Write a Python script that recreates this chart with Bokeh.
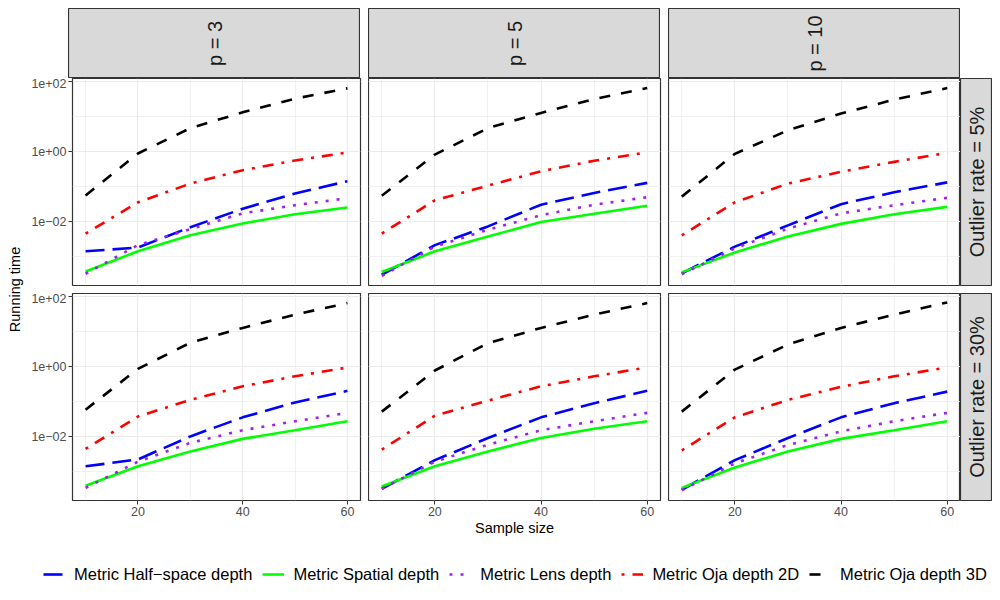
import math
from bokeh.plotting import figure
from bokeh.models import (ColumnDataSource, FixedTicker, Range1d, CustomJSTickFormatter,
                          Legend, LegendItem, Spacer)
from bokeh.layouts import row, column
from bokeh.embed import file_html
from bokeh.resources import INLINE
from bokeh.core.properties import value

# ---------------- data ----------------
sample_sizes = [10, 20, 30, 40, 50, 60]
dim_labels = ["p = 3", "p = 5", "p = 10"]
rate_labels = ["Outlier rate = 5%", "Outlier rate = 30%"]
method_labels = ["Metric Half\u2212space depth", "Metric Spatial depth", "Metric Lens depth",
                 "Metric Oja depth 2D", "Metric Oja depth 3D"]
y_tick_values = [0.01, 1, 100]
y_minor_values = [0.001, 0.1, 10]
x_tick_values = [20, 40, 60]
x_minor_values = [10, 30, 50]

# each list: [p = 3, p = 5, p = 10]; outlier rate 5%
halfspace_5 = [[0.0014, 0.0018, 0.0068, 0.023, 0.063, 0.14],
               [0.0003, 0.0021, 0.0072, 0.030, 0.065, 0.126],
               [0.00033, 0.0019, 0.0077, 0.031, 0.068, 0.13]]
spatial_5 = [[0.00037, 0.0014, 0.0040, 0.0087, 0.016, 0.025],
             [0.00036, 0.0014, 0.0037, 0.0096, 0.0166, 0.028],
             [0.00035, 0.0013, 0.0037, 0.0085, 0.016, 0.026]]
lens_5 = [[0.00032, 0.0021, 0.0060, 0.017, 0.029, 0.046],
          [0.00028, 0.0019, 0.0058, 0.015, 0.030, 0.049],
          [0.00031, 0.0017, 0.0062, 0.017, 0.029, 0.047]]
oja2d_5 = [[0.0045, 0.035, 0.12, 0.29, 0.55, 0.93],
           [0.0045, 0.040, 0.105, 0.27, 0.54, 0.93],
           [0.0040, 0.035, 0.12, 0.26, 0.50, 0.91]]
oja3d_5 = [[0.055, 0.87, 4.6, 13.0, 32.0, 63.0],
           [0.054, 0.81, 4.6, 12.5, 31.0, 64.0],
           [0.051, 0.85, 4.0, 12.0, 30.0, 64.0]]

# outlier rate 30%
halfspace_30 = [[0.0014, 0.0022, 0.010, 0.035, 0.093, 0.20],
                [0.00032, 0.0021, 0.009, 0.035, 0.089, 0.20],
                [0.0003, 0.0021, 0.009, 0.035, 0.089, 0.19]]
spatial_30 = [[0.00039, 0.0014, 0.0037, 0.0085, 0.015, 0.027],
              [0.00037, 0.0014, 0.0037, 0.0090, 0.0166, 0.027],
              [0.00034, 0.0013, 0.0037, 0.0085, 0.015, 0.027]]
lens_30 = [[0.00034, 0.0019, 0.0065, 0.015, 0.027, 0.047],
           [0.00032, 0.0019, 0.0058, 0.015, 0.027, 0.047],
           [0.00029, 0.0017, 0.0057, 0.014, 0.027, 0.047]]
oja2d_30 = [[0.0044, 0.037, 0.11, 0.27, 0.52, 0.93],
            [0.0042, 0.039, 0.105, 0.27, 0.52, 0.93],
            [0.0040, 0.035, 0.11, 0.26, 0.52, 0.93]]
oja3d_30 = [[0.058, 0.85, 4.7, 12.5, 30.0, 64.0],
            [0.051, 0.76, 4.6, 12.5, 30.0, 64.0],
            [0.051, 0.81, 4.2, 12.5, 30.0, 67.0]]

rows_data = [[halfspace_5, spatial_5, lens_5, oja2d_5, oja3d_5],
             [halfspace_30, spatial_30, lens_30, oja2d_30, oja3d_30]]

# ---------------- styles ----------------
FONT = "Liberation Sans"
method_colors = ["#0000FF", "#00FF00", "#A020F0", "#FF0000", "#000000"]
method_dashes = ["19 8", "solid", "3 8", "3 8 11 8", "11 11"]
LW = 2.6
BORDER = "#333333"
GRID = "#EBEBEB"
STRIP_BG = "#D9D9D9"

col_w = [340, 300, 292]
col_ml = [40, 0, 0]
col_mr = [8, 8, 0]
row_h = [215, 247]
row_mb = [8, 40]

fmt = CustomJSTickFormatter(code="""
const e = Math.round(Math.log10(tick));
const a = Math.abs(e);
return "1e" + (e < 0 ? "\u2212" : "+") + (a < 10 ? "0" : "") + a;
""")


def strip_fig(label, w, h, mb=0):
    s = figure(width=w, height=h, x_range=Range1d(0, 1), y_range=Range1d(0, 1),
               min_border_left=0, min_border_right=0, min_border_top=0, min_border_bottom=mb,
               toolbar_location=None, output_backend="svg",
               x_axis_location=None, y_axis_location=None,
               background_fill_color=STRIP_BG, border_fill_color="white",
               outline_line_color=BORDER, outline_line_width=1.2)
    s.grid.visible = False
    src = ColumnDataSource(dict(x=[0.5], y=[0.5], t=[label]))
    s.text(x="x", y="y", text="t", source=src, angle=math.pi / 2,
           text_align="center", text_baseline="middle",
           text_font=value(FONT), text_font_size="20px", text_color="#1A1A1A")
    return s


def panel(ri, ci):
    bottom = ri == 1
    left = ci == 0
    p = figure(width=col_w[ci], height=row_h[ri],
               x_range=Range1d(7.5, 62.5), y_range=Range1d(10 ** -3.83, 10 ** 2.08),
               y_axis_type="log",
               x_axis_location="below" if bottom else None,
               y_axis_location="left" if left else None,
               min_border_left=col_ml[ci], min_border_right=col_mr[ci],
               min_border_top=0, min_border_bottom=row_mb[ri],
               toolbar_location=None, output_backend="svg",
               background_fill_color="white", border_fill_color="white",
               outline_line_color=BORDER, outline_line_width=1.2)
    p.xgrid.ticker = FixedTicker(ticks=x_tick_values, minor_ticks=x_minor_values)
    p.ygrid.ticker = FixedTicker(ticks=y_tick_values, minor_ticks=y_minor_values)
    for g in (p.xgrid, p.ygrid):
        g.grid_line_color = GRID
        g.grid_line_width = 1.2
        g.minor_grid_line_color = GRID
        g.minor_grid_line_width = 0.7
    if bottom:
        ax = p.xaxis[0]
        ax.ticker = FixedTicker(ticks=x_tick_values)
        ax.axis_label = "Sample size" if ci == 1 else None
    if left:
        ax = p.yaxis[0]
        ax.ticker = FixedTicker(ticks=y_tick_values)
        ax.formatter = fmt
    for ax in list(p.xaxis) + list(p.yaxis):
        ax.axis_line_color = None
        ax.major_tick_line_color = BORDER
        ax.major_tick_out = 4
        ax.major_tick_in = 0
        ax.minor_tick_line_color = None
        ax.major_label_text_font = FONT
        ax.major_label_text_font_size = "12.5px"
        ax.major_label_text_color = "#4D4D4D"
        ax.major_label_standoff = 2
        ax.axis_label_text_font = FONT
        ax.axis_label_text_font_size = "14.5px"
        ax.axis_label_text_font_style = "normal"
        ax.axis_label_text_color = "#000000"
        ax.axis_label_standoff = 1
    data = rows_data[ri]
    for mi in range(len(method_labels)):
        src = ColumnDataSource(dict(x=sample_sizes, y=data[mi][ci]))
        p.line(x="x", y="y", source=src, line_color=method_colors[mi], line_width=LW,
               line_dash=method_dashes[mi])
    return p


# top strips
top_row = row(Spacer(width=40, height=70), strip_fig(dim_labels[0], 292, 70),
              Spacer(width=8, height=70), strip_fig(dim_labels[1], 292, 70),
              Spacer(width=8, height=70), strip_fig(dim_labels[2], 292, 70),
              Spacer(width=32, height=70))

panel_rows = []
for ri in range(2):
    figs = [panel(ri, ci) for ci in range(3)]
    figs.append(strip_fig(rate_labels[ri], 32, row_h[ri], mb=row_mb[ri]))
    panel_rows.append(row(*figs))

grid_col = column(top_row, *panel_rows)

# shared y label (figure spans page x 0..28)
total_h = 70 + sum(row_h)
yl = figure(width=28, height=total_h, x_range=Range1d(0, 28), y_range=Range1d(0, total_h),
            min_border=0, toolbar_location=None, output_backend="svg",
            x_axis_location=None, y_axis_location=None, outline_line_color=None)
yl.grid.visible = False
yl.text(x=[14], y=[total_h - 281], text=["Running time"], angle=math.pi / 2,
        text_align="center", text_baseline="middle", text_font=value(FONT),
        text_font_size="14.5px", text_color="#000000")

# legend (key renderers use the first panel's series, outside this figure's visible range)
lf = figure(width=984, height=52, x_range=Range1d(0, 1), y_range=Range1d(0, 1),
            min_border=0, toolbar_location=None, output_backend="svg",
            x_axis_location=None, y_axis_location=None, outline_line_color=None)
lf.grid.visible = False
items = []
for mi, lab in enumerate(method_labels):
    src = ColumnDataSource(dict(x=sample_sizes, y=rows_data[0][mi][0]))
    r = lf.line(x="x", y="y", source=src, line_color=method_colors[mi], line_width=LW,
                line_dash=method_dashes[mi])
    items.append(LegendItem(label=lab, renderers=[r]))
legend = Legend(items=items, orientation="horizontal", location=(35, 8),
                padding=0, margin=0, spacing=10, glyph_width=22, glyph_height=20,
                label_standoff=9, label_text_font=FONT, label_text_font_size="16.5px",
                label_text_color="#000000", border_line_color=None, background_fill_alpha=0)
lf.add_layout(legend, "center")

upper = row(yl, grid_col)
lower = row(Spacer(width=8, height=52), lf)
root = column(Spacer(width=992, height=8), upper, lower)

open("out.html", "w").write(file_html(root, INLINE))
